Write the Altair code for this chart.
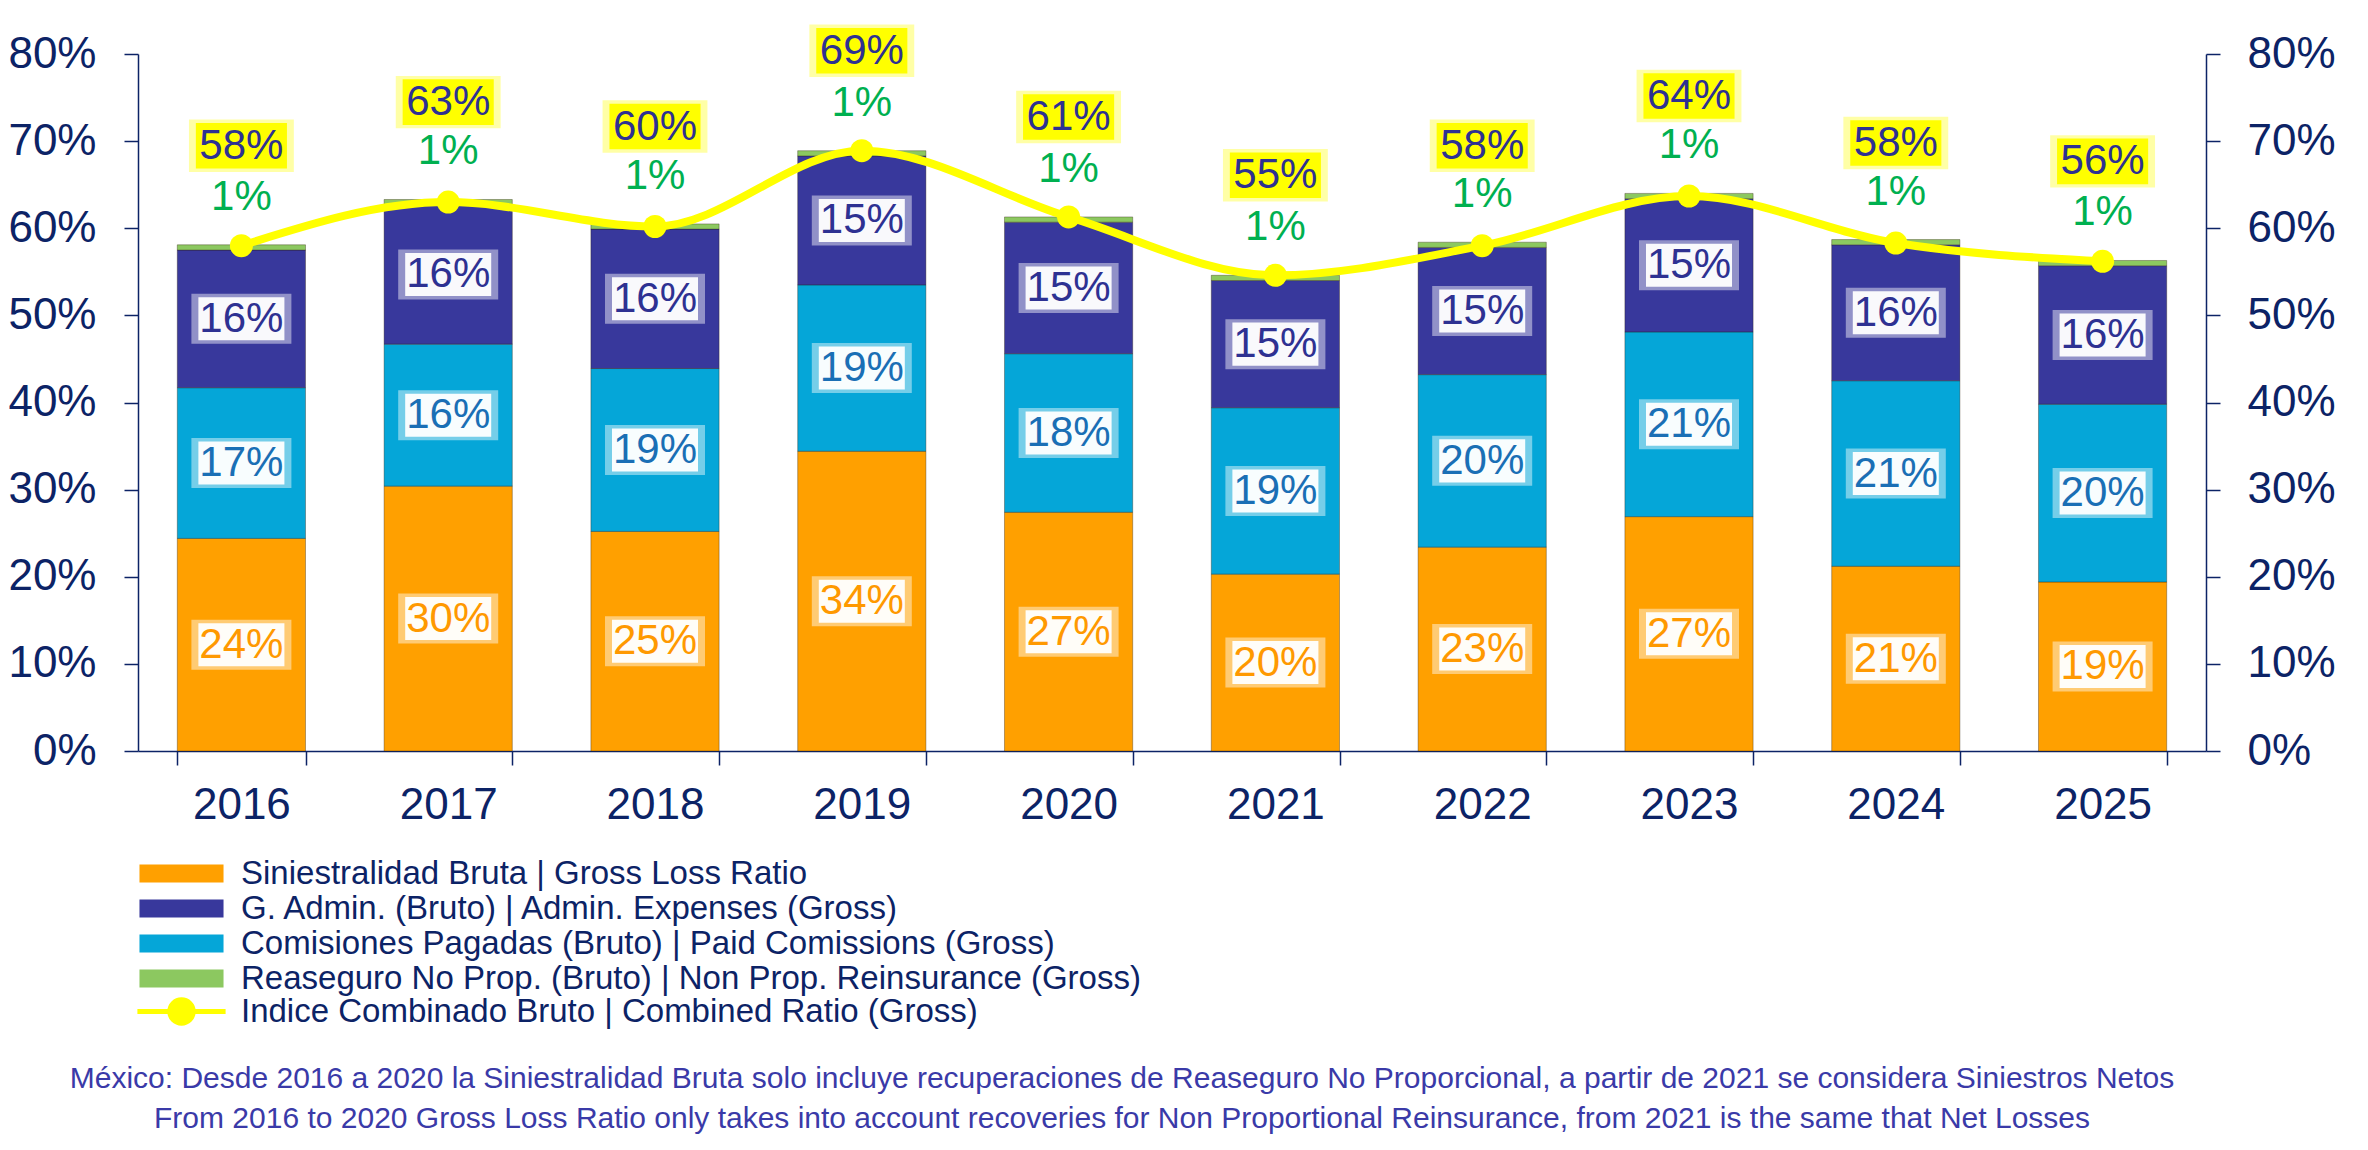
import altair as alt
import pandas as pd

years = ["2016", "2017", "2018", "2019", "2020", "2021", "2022", "2023", "2024", "2025"]
loss = [24.4, 30.4, 25.2, 34.4, 27.4, 20.3, 23.4, 26.9, 21.2, 19.4]
comm = [17.3, 16.3, 18.7, 19.1, 18.2, 19.1, 19.8, 21.2, 21.3, 20.4]
admin = [15.8, 16.0, 16.0, 14.8, 15.1, 14.6, 14.6, 15.3, 15.6, 15.9]
reins = [0.6, 0.6, 0.6, 0.6, 0.6, 0.6, 0.6, 0.6, 0.6, 0.6]
combined = [58.0, 63.0, 60.2, 68.9, 61.3, 54.6, 58.0, 63.7, 58.3, 56.2]

n_loss = "Siniestralidad Bruta | Gross Loss Ratio"
n_admin = "G. Admin. (Bruto) | Admin. Expenses (Gross)"
n_comm = "Comisiones Pagadas (Bruto) | Paid Comissions (Gross)"
n_reins = "Reaseguro No Prop. (Bruto) | Non Prop. Reinsurance (Gross)"
n_line = "Indice Combinado Bruto | Combined Ratio (Gross)"

legend_order = [n_loss, n_admin, n_comm, n_reins]
stack_series = [(n_loss, loss, 0), (n_comm, comm, 1), (n_admin, admin, 2), (n_reins, reins, 3)]

footnote = [
    "México: Desde 2016 a 2020 la Siniestralidad Bruta solo incluye recuperaciones de Reaseguro No Proporcional, a partir de 2021 se considera Siniestros Netos",
    "From 2016 to 2020 Gross Loss Ratio only takes into account recoveries for Non Proportional Reinsurance, from 2021 is the same that Net Losses",
]

rows = []
for i, yr in enumerate(years):
    for name, vals, order in stack_series:
        rows.append({"year": yr, "series": name, "value": vals[i], "order": order})
df = pd.DataFrame(rows)
line_df = pd.DataFrame({"year": years, "combined": combined, "name": [n_line] * len(years)})

FONT = "Liberation Sans, Arial"
NAVY = "#0C2366"
bar_colors = ["#FFA000", "#38389C", "#05A6D8", "#8CC860"]
label_colors = ["#FF9900", "#2E3192", "#1A6FB5", "#00B050"]
RECT = "M-1,-0.5H1V0.5H-1Z"
LEG_RECT = "M-4.67,-1H4.67V1H-4.67Z"
LEG_LINE = "M-4.9,0H4.9M-1.3,0A1.3,1.3 0 1,0 1.3,0A1.3,1.3 0 1,0 -1.3,0Z"

yscale = alt.Scale(domain=[0, 80], nice=False)
x_axis = alt.Axis(title=None, labelFont=FONT, labelFontSize=44, labelColor=NAVY, labelAngle=0,
                  domainColor=NAVY, tickColor=NAVY, tickBand="extent", tickSize=14, labelPadding=18,
                  domainWidth=1.5, tickWidth=1.5)
x = alt.X("year:N", scale=alt.Scale(paddingInner=0.38, paddingOuter=0.19), axis=x_axis, sort=years)


def y_axis(orient, pad):
    return alt.Axis(title=None, orient=orient, values=list(range(0, 81, 10)), labelExpr="datum.value + '%'",
                    labelFont=FONT, labelFontSize=44, labelColor=NAVY, domainColor=NAVY, tickColor=NAVY,
                    tickSize=14, labelPadding=pad, grid=False, domainWidth=1.5, tickWidth=1.5)


base = alt.Chart(df).transform_stack(
    stack="value", groupby=["year"], as_=["v0", "v1"], sort=[alt.SortField("order")]
).transform_calculate(
    mid="(datum.v0 + datum.v1) / 2", lab="format(datum.value / 100, '.0%')"
)

bars = base.mark_bar(stroke="#2a1e08", strokeWidth=1, strokeOpacity=0.35).encode(
    x=x,
    y=alt.Y("v1:Q", scale=yscale, axis=y_axis("left", 28)),
    y2="v0:Q",
    color=alt.Color("series:N", scale=alt.Scale(domain=legend_order, range=bar_colors),
                    legend=alt.Legend(title=None, orient="none", legendX=27, legendY=803, direction="vertical",
                                      symbolType=LEG_RECT, symbolSize=324, symbolStrokeWidth=0,
                                      labelFont=FONT, labelFontSize=33, labelColor=NAVY, labelLimit=2000,
                                      labelOffset=43, rowPadding=1)),
)

seg = base.transform_filter("datum.order < 3")
glow = seg.mark_point(shape=RECT, filled=True, size=10000, color="white", opacity=0.45).encode(
    x=x, y=alt.Y("mid:Q", scale=yscale, axis=None)
)
boxes = seg.mark_point(shape=RECT, filled=True, size=7400, color="white", opacity=0.95).encode(
    x=x, y=alt.Y("mid:Q", scale=yscale, axis=None)
)
seg_text = seg.mark_text(font=FONT, fontSize=42, baseline="middle").encode(
    x=x, y=alt.Y("mid:Q", scale=yscale, axis=None), text="lab:N",
    color=alt.Color("series:N", scale=alt.Scale(domain=legend_order, range=label_colors), legend=None),
)
green_text = base.transform_filter("datum.order == 3").mark_text(
    font=FONT, fontSize=42, baseline="middle", dy=-48, color="#00B050"
).encode(x=x, y=alt.Y("v1:Q", scale=yscale, axis=None), text="lab:N")

lbase = alt.Chart(line_df).transform_calculate(lab="format(datum.combined / 100, '.0%')")
line = lbase.mark_line(interpolate="monotone", strokeWidth=8).encode(
    x=x,
    y=alt.Y("combined:Q", scale=yscale, axis=y_axis("right", 27)),
    stroke=alt.Stroke("name:N", scale=alt.Scale(range=["#FFFF00"]),
                      legend=alt.Legend(title=None, orient="none", legendX=27, legendY=941,
                                        symbolType=LEG_LINE, symbolSize=324, symbolStrokeWidth=5,
                                        symbolFillColor="#FFFF00", symbolStrokeColor="#FFFF00",
                                        labelFont=FONT, labelFontSize=33, labelColor=NAVY, labelLimit=2000,
                                        labelOffset=43)),
)
pts = lbase.mark_circle(size=530, color="#FFFF00", opacity=1).encode(
    x=x, y=alt.Y("combined:Q", scale=yscale, axis=None)
)
cglow = lbase.mark_point(shape=RECT, filled=True, size=11000, color="#FFFF00", opacity=0.35, yOffset=-100).encode(
    x=x, y=alt.Y("combined:Q", scale=yscale, axis=None)
)
cbox = lbase.mark_point(shape=RECT, filled=True, size=8300, color="#FFFF00", opacity=1, yOffset=-100).encode(
    x=x, y=alt.Y("combined:Q", scale=yscale, axis=None)
)
ctext = lbase.mark_text(font=FONT, fontSize=42, baseline="middle", dy=-100, color="#2E3192").encode(
    x=x, y=alt.Y("combined:Q", scale=yscale, axis=None), text="lab:N"
)

chart = alt.layer(bars, glow, boxes, seg_text, green_text, line, pts, cglow, cbox, ctext).resolve_scale(
    color="independent"
).resolve_axis(y="independent").properties(
    width=2068, height=697,
    padding={"left": 138, "top": 54, "right": 162, "bottom": 399},
    autosize=alt.AutoSizeParams(type="none"),
    title=alt.TitleParams(text=footnote, orient="bottom", anchor="middle", font=FONT, fontSize=30,
                          fontWeight="normal", color="#3A3AA8", lineHeight=40, offset=30, dx=-50),
).configure_view(stroke=None)

chart.save("out.html", embed_options={"renderer": "svg", "actions": False})
